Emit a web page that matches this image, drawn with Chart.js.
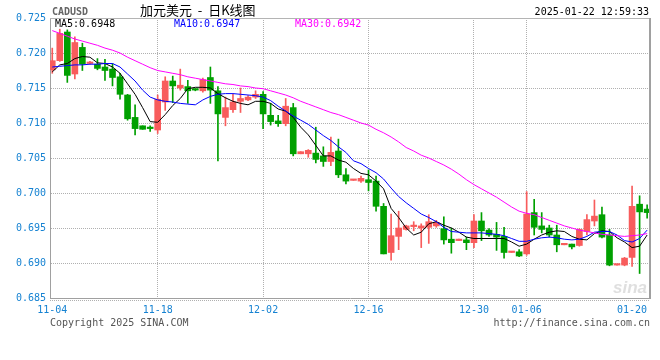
<!DOCTYPE html>
<html><head><meta charset="utf-8">
<script src="https://cdn.jsdelivr.net/npm/chart.js@4.4.1/dist/chart.umd.min.js"></script>
<style>html,body{margin:0;padding:0;background:#fff;}canvas{display:block;}</style>
</head><body>
<canvas id="c" width="660" height="360"></canvas>
<script>
const dates = ['11-04','11-05','11-06','11-07','11-08','11-09','11-10','11-11','11-12','11-13','11-14','11-15','11-16','11-17','11-18','11-19','11-20','11-21','11-22','11-23','11-24','11-25','11-26','11-27','11-28','11-29','11-30',
'12-01','12-02','12-03','12-04','12-05','12-06','12-07','12-08','12-09','12-10','12-11','12-12','12-13','12-14','12-15','12-16','12-17','12-18','12-19','12-20','12-21','12-22','12-23','12-24','12-25','12-26','12-27','12-28','12-29','12-30','12-31',
'01-01','01-02','01-03','01-04','01-05','01-06','01-07','01-08','01-09','01-10','01-11','01-12','01-13','01-14','01-15','01-16','01-17','01-18','01-19','01-20','01-21','01-22'];
const open  = [0.7176,0.7189,0.7230,0.7170,0.7208,0.7185,0.7184,0.7180,0.7177,0.7166,0.7140,0.7108,0.7096,0.7093,0.7090,0.7130,0.7160,0.7150,0.7152,0.7148,
0.7146,0.7165,0.7146,0.7108,0.7119,0.7131,0.7133,0.7137,0.7141,0.7111,0.7103,0.7099,0.7122,0.7056,0.7056,0.7057,0.7053,0.7045,0.7060,0.7026,
0.7018,0.7017,0.7019,0.7017,0.6981,0.6915,0.6938,0.6948,0.6952,0.6950,0.6951,0.6953,0.6949,0.6934,0.6932,0.6933,0.6929,0.6960,0.6947,0.6941,
0.6938,0.6915,0.6916,0.6913,0.6972,0.6953,0.6950,0.6940,0.6926,0.6927,0.6925,0.6945,0.6960,0.6969,0.6940,0.6897,0.6897,0.6908,0.6984,0.6977];
const high  = [0.7207,0.7234,0.7233,0.7223,0.7214,0.7188,0.7192,0.7191,0.7185,0.7171,0.7141,0.7126,0.7096,0.7096,0.7140,0.7166,0.7167,0.7177,0.7161,0.7149,
0.7164,0.7180,0.7152,0.7137,0.7141,0.7150,0.7139,0.7146,0.7145,0.7128,0.7111,0.7135,0.7128,0.7059,0.7062,0.7094,0.7066,0.7080,0.7077,0.7035,
0.7019,0.7024,0.7033,0.7024,0.6985,0.6970,0.6974,0.6954,0.6959,0.6956,0.6969,0.6961,0.6966,0.6950,0.6934,0.6937,0.6969,0.6972,0.6949,0.6958,
0.6951,0.6916,0.6919,0.7002,0.6991,0.6972,0.6954,0.6954,0.6927,0.6927,0.6949,0.6969,0.6990,0.6980,0.6948,0.6898,0.6908,0.7010,0.6996,0.6983];
const low   = [0.7171,0.7188,0.7158,0.7163,0.7175,0.7184,0.7176,0.7161,0.7153,0.7134,0.7104,0.7083,0.7091,0.7088,0.7085,0.7118,0.7129,0.7147,0.7128,0.7146,
0.7144,0.7128,0.7046,0.7096,0.7115,0.7115,0.7132,0.7135,0.7092,0.7097,0.7095,0.7096,0.7053,0.7056,0.7051,0.7043,0.7038,0.7039,0.7022,0.7013,
0.7018,0.7015,0.7003,0.6974,0.6913,0.6904,0.6919,0.6947,0.6946,0.6922,0.6928,0.6951,0.6927,0.6914,0.6932,0.6919,0.6922,0.6932,0.6938,0.6918,
0.6907,0.6915,0.6909,0.6911,0.6940,0.6943,0.6937,0.6916,0.6926,0.6920,0.6924,0.6940,0.6953,0.6936,0.6896,0.6897,0.6896,0.6895,0.6885,0.6964];
const close = [0.7189,0.7228,0.7168,0.7215,0.7184,0.7186,0.7178,0.7175,0.7165,0.7141,0.7106,0.7092,0.7091,0.7092,0.7134,0.7160,0.7153,0.7154,0.7146,0.7147,
0.7162,0.7147,0.7113,0.7122,0.7130,0.7135,0.7137,0.7141,0.7113,0.7102,0.7099,0.7124,0.7056,0.7059,0.7061,0.7048,0.7045,0.7058,0.7026,0.7017,
0.7019,0.7021,0.7015,0.6981,0.6913,0.6939,0.6950,0.6953,0.6954,0.6953,0.6959,0.6958,0.6933,0.6929,0.6933,0.6929,0.6960,0.6946,0.6940,0.6937,
0.6915,0.6916,0.6910,0.6970,0.6951,0.6948,0.6940,0.6926,0.6927,0.6923,0.6948,0.6962,0.6967,0.6937,0.6897,0.6898,0.6907,0.6981,0.6973,0.6972];
const ma5  = [0.7173,0.7183,0.7185,0.7192,0.7195,0.7194,0.7186,0.7185,0.7180,0.7171,0.7156,0.7141,0.7122,0.7102,0.7101,0.7112,0.7125,0.7135,0.7149,0.7151,
0.7151,0.7150,0.7142,0.7136,0.7131,0.7128,0.7126,0.7131,0.7131,0.7128,0.7120,0.7117,0.7108,0.7094,0.7083,0.7068,0.7053,0.7053,0.7047,0.7044,
0.7035,0.7028,0.7026,0.7017,0.7006,0.6978,0.6965,0.6950,0.6940,0.6944,0.6956,0.6959,0.6954,0.6950,0.6944,0.6937,0.6935,0.6935,0.6935,0.6935,
0.6935,0.6930,0.6924,0.6927,0.6934,0.6940,0.6944,0.6946,0.6945,0.6938,0.6934,0.6933,0.6942,0.6946,0.6945,0.6936,0.6930,0.6922,0.6924,0.6940];
const ma10 = [0.7180,0.7181,0.7182,0.7183,0.7183,0.7184,0.7184,0.7185,0.7185,0.7180,0.7170,0.7160,0.7147,0.7137,0.7133,0.7131,0.7130,0.7128,0.7127,0.7126,
0.7133,0.7138,0.7141,0.7142,0.7142,0.7141,0.7140,0.7139,0.7137,0.7132,0.7124,0.7117,0.7110,0.7104,0.7098,0.7090,0.7082,0.7075,0.7066,0.7058,
0.7046,0.7042,0.7035,0.7029,0.7020,0.7007,0.6995,0.6986,0.6978,0.6970,0.6965,0.6959,0.6951,0.6945,0.6944,0.6943,0.6943,0.6943,0.6942,0.6941,
0.6939,0.6935,0.6931,0.6931,0.6934,0.6936,0.6937,0.6936,0.6934,0.6933,0.6934,0.6938,0.6944,0.6945,0.6945,0.6940,0.6932,0.6930,0.6935,0.6947];
const ma30 = [0.7232,0.7228,0.7224,0.7220,0.7217,0.7214,0.7211,0.7207,0.7204,0.7200,0.7194,0.7189,0.7184,0.7179,0.7175,0.7173,0.7171,0.7169,0.7166,0.7164,
0.7162,0.7160,0.7158,0.7156,0.7155,0.7153,0.7152,0.7150,0.7149,0.7146,0.7143,0.7140,0.7136,0.7131,0.7127,0.7123,0.7119,0.7115,0.7112,0.7108,
0.7104,0.7100,0.7097,0.7091,0.7086,0.7080,0.7073,0.7065,0.7060,0.7054,0.7050,0.7045,0.7040,0.7034,0.7027,0.7019,0.7012,0.7006,0.7000,0.6994,
0.6987,0.6980,0.6974,0.6971,0.6969,0.6965,0.6961,0.6957,0.6953,0.6950,0.6947,0.6945,0.6943,0.6941,0.6940,0.6939,0.6938,0.6939,0.6940,0.6942];
const yTicks = [0.685,0.690,0.695,0.700,0.705,0.710,0.715,0.720,0.725];
const tickDates = ['11-04','11-18','12-02','12-16','12-30','01-06','01-20'];
const gridDates = ['11-18','12-02','12-16','12-30','01-06'];
const maLabels = ['MA5:0.6948','MA10:0.6947','MA30:0.6942'];
const symbol = 'CADUSD';
const title = '加元美元  -  日K线图';
const stamp = '2025-01-22 12:59:33';
const footLeft = 'Copyright 2025 SINA.COM';
const footRight = 'http://finance.sina.com.cn';

const UP = '#f85c5c', DOWN = '#00a000';
const colors = close.map((c, i) => c >= open[i] ? UP : DOWN);
const mono = '"DejaVu Sans Mono", monospace';
const axisBlue = '#1582d2';
const clear = 'rgba(0,0,0,0)';

const deco = {
  id: 'deco',
  beforeDatasetsDraw(chart) {
    const {ctx, chartArea: a} = chart;
    ctx.save();
    ctx.font = 'italic bold 17px "Liberation Sans", Arial, sans-serif';
    ctx.fillStyle = 'rgba(185,185,185,0.45)';
    ctx.textAlign = 'right'; ctx.textBaseline = 'alphabetic';
    ctx.fillText('sina', a.right - 3, a.bottom - 5);
    ctx.restore();
  },
  afterDraw(chart) {
    const {ctx, chartArea: a} = chart;
    ctx.save();
    ctx.strokeStyle = '#b4b4b4'; ctx.lineWidth = 1;
    ctx.beginPath(); ctx.moveTo(a.left, a.top + 0.5); ctx.lineTo(a.right, a.top + 0.5); ctx.stroke();
    ctx.strokeStyle = '#a0a0a0'; ctx.lineWidth = 2;
    ctx.beginPath(); ctx.moveTo(a.right, a.top); ctx.lineTo(a.right, a.bottom + 1); ctx.stroke();
    ctx.lineWidth = 1; ctx.setLineDash([1, 1]); ctx.strokeStyle = '#b0b0b0';
    ctx.beginPath(); ctx.moveTo(a.left, a.bottom + 2.5); ctx.lineTo(a.right, a.bottom + 2.5); ctx.stroke();
    ctx.setLineDash([]);
    ctx.textBaseline = 'alphabetic';
    ctx.textAlign = 'left';
    ctx.font = 'bold 10px ' + mono; ctx.fillStyle = '#666';
    ctx.fillText(symbol, a.left + 2, 15);
    ctx.font = '13px "Noto Sans CJK SC", sans-serif'; ctx.fillStyle = '#000';
    ctx.fillText(title, 140, 15);
    ctx.font = '10px ' + mono;
    ctx.textAlign = 'right';
    ctx.fillText(stamp, a.right - 1, 15);
    ctx.textAlign = 'left';
    const maColors = ['#000000', '#0000ff', '#ff00ff'];
    const maX = [55, 174, 295];
    maLabels.forEach((t, k) => { ctx.fillStyle = maColors[k]; ctx.fillText(t, maX[k], 27); });
    ctx.fillStyle = '#555';
    ctx.fillText(footLeft, a.left, 326);
    ctx.textAlign = 'right';
    ctx.fillText(footRight, a.right, 326);
    ctx.restore();
  }
};

const pts = arr => arr.map((v, i) => ({x: i, y: v}));
const lineDs = (label, arr, color) => ({
  type: 'line', label, data: pts(arr), borderColor: color, borderWidth: 1,
  pointRadius: 0, tension: 0, fill: false, order: 1
});

new Chart(document.getElementById('c'), {
  type: 'bar',
  data: {
    datasets: [
      {label: 'wick', data: low.map((l, i) => ({x: i, y: [l, high[i]]})), backgroundColor: colors,
       barThickness: 1, grouped: false, order: 3},
      {label: 'body', data: open.map((o, i) => ({x: i, y: [o, close[i]]})), backgroundColor: colors,
       barThickness: 6, minBarLength: 1.5, grouped: false, order: 2},
      lineDs('MA30', ma30, '#ff00ff'),
      lineDs('MA10', ma10, '#0000ff'),
      lineDs('MA5', ma5, '#000000')
    ]
  },
  options: {
    responsive: false, animation: false,
    layout: {padding: {left: 0, right: 10, top: 18, bottom: 0}},
    plugins: {legend: {display: false}, tooltip: {enabled: false}},
    scales: {
      x: {
        type: 'linear', min: -0.3, max: 79.38, offset: false,
        afterBuildTicks: s => { s.ticks = tickDates.map(d => ({value: dates.indexOf(d)})); },
        afterFit: s => { s.height = 62; },
        ticks: {autoSkip: false, maxRotation: 0, padding: 6, color: axisBlue,
                font: {family: mono, size: 10}, callback: v => dates[v] || ''},
        grid: {offset: false, drawTicks: false, lineWidth: 1,
               color: c => (c.tick && gridDates.includes(dates[c.tick.value])) ? '#b0b0b0' : clear},
        border: {display: true, color: '#a0a0a0', width: 1, dash: [1, 1]}
      },
      y: {
        type: 'linear', min: yTicks[0], max: yTicks[yTicks.length - 1],
        afterBuildTicks: s => { s.ticks = yTicks.map(v => ({value: v})); },
        afterFit: s => { s.width = 50; },
        ticks: {padding: 4, color: axisBlue, font: {family: mono, size: 10},
                callback: v => Number(v).toFixed(3)},
        grid: {drawTicks: false, lineWidth: 1,
               color: c => (c.tick && c.tick.value > yTicks[0] + 1e-6 && c.tick.value < yTicks[yTicks.length - 1] - 1e-6) ? '#b0b0b0' : clear},
        border: {display: true, color: '#a0a0a0', width: 1, dash: [1, 1]}
      }
    }
  },
  plugins: [deco]
});
</script>
</body></html>
